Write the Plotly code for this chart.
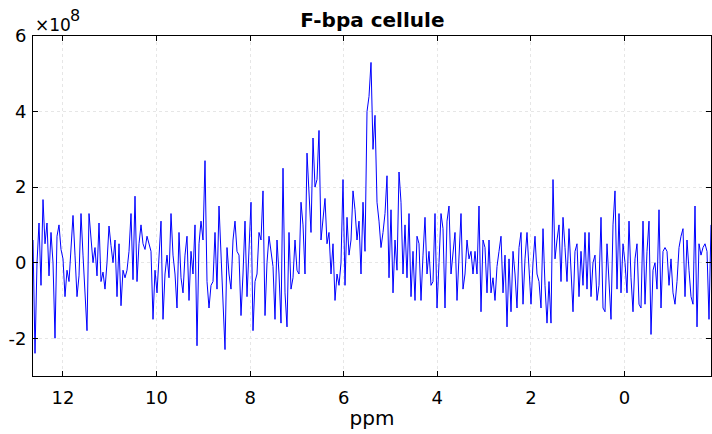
import numpy as np
import plotly.graph_objects as go

# chemical shift range of the sampled spectrum (ppm), left to right
ppm_first = 12.64
ppm_last = -1.85

# intensity values (x 1e8), left (high ppm) to right
seg_a = [0.6, -2.4, 0.0, 1.05, -0.6, 1.67, 0.5, 1.05, -0.35, 0.8,
         0.0, -2.0, 0.7, 1.0, 0.35, 0.1, -0.9, -0.2, -0.5, 0.3,
         1.25, 0.2, -0.9, -0.35, 1.3, 0.2, -0.9, -1.8, 1.3, 0.5,
         0.0, 0.4, -0.35, 1.05, -0.5, -0.25, -0.7, 0.0, 0.97, 0.45,
         0.0, 0.6, -0.9, 0.5, -1.14, -0.2, -0.4, -0.2, 0.3, 1.3,
         -0.45, 1.76, -0.5, 0.5, 1.0, 0.5, 0.35, 0.7]
seg_b = [0.5, 0.3, -1.5, -0.2, -0.8, 0.3, 1.1, -1.5, -0.3, 0.2,
         -0.4, 1.3, 0.2, -0.3, -1.2, 0.8, -0.4, -0.8, 0.2, 0.7,
         -1.0, 0.3, -0.3, 1.0, -2.2, 0.5, 1.1, 0.6, 2.7, -0.5,
         -1.2, -0.6, -0.5, 0.8, -0.7, 1.5, 0.3, -1.1, -2.3, 0.4,
         -0.3, -0.7, 0.6, 1.1, 0.3, 0.2, -1.4, -0.3, 1.1, -0.9,
         0.2, 1.6, -1.8, -0.5, -0.3, 0.8, 0.6, 1.9]
seg_c = [-1.4, 0.0, 0.7, 0.3, -0.1, -1.5, 0.6, -0.3, -1.6, 2.5,
         -0.8, -1.7, 0.8, -0.7, -0.4, 0.6, -0.2, -0.3, 1.6, 1.0,
         -0.3, 2.9, 2.0, 0.8, 3.3, 2.0, 2.2, 3.5, 0.6, 1.2,
         1.7, 0.5, 0.8, -0.3, 0.5, -1.0, -0.3, -0.6, 0.0, 2.2,
         -0.6, 1.2, 0.2, 0.6, 1.9, 1.4, 0.6, 1.1, -0.3, 1.6,
         0.3, 4.0, 4.4, 5.3, 3.0, 3.9, 1.6]
seg_d = [1.1, 0.4, 0.8, 1.3, 2.3, -0.4, 1.4, -0.8, 0.6, -0.2,
         2.4, 1.6, -0.3, 1.0, -0.4, 1.3, -0.9, 0.3, -1.0, 0.7,
         0.5, -1.0, 0.2, 1.2, -0.3, 0.3, -0.6, -0.5, 1.3, -1.2,
         0.0, 1.3, 0.9, -1.2, 1.1, 1.5, -0.3, 0.3, 0.8, -1.0,
         0.2, 1.3, -0.7, -0.3, 0.6, 0.1, 0.3, -0.3, 0.3, -0.3,
         1.5, -1.3, 0.6, 0.4, -0.8, 0.6, -0.8]
seg_e = [-0.4, -1.0, -0.1, 0.3, 0.7, -0.8, 0.2, -1.7, 0.1, -1.3,
         0.3, -0.3, -1.2, 0.4, 0.8, -1.1, 0.1, 0.8, -0.3, -1.1,
         0.0, 0.7, -0.3, -0.5, -1.2, 0.9, -0.6, -1.6, -0.5, -1.6,
         2.2, 0.1, 0.6, 1.0, -0.5, 1.2, 0.4, -0.5, 0.9, -0.3,
         -1.3, 0.3, 0.5, -0.9, 0.3, -0.6, 0.8, -0.7, 0.8, -0.9,
         0.0, 0.2, -1.0, -0.6, 1.2, -1.2, -1.3]
seg_f = [0.5, -0.5, -1.5, 1.0, 1.9, -0.7, 1.3, -0.8, 0.5, 0.0,
         -0.8, 1.1, -0.4, -1.3, 0.1, 0.5, -1.1, -1.2, 1.1, -1.1,
         0.3, 1.1, -1.9, -0.2, 0.0, -0.7, 1.4, -1.2, 0.3, 0.4,
         0.3, -0.6, 0.1, -0.8, -1.1, -0.5, 0.4, 0.7, 0.9, -0.9,
         0.6, -0.2, -0.9, -1.1, 1.5, -1.7, 0.5, 0.2, 0.4, 0.5,
         0.3, -1.5, 1.0]

intensity = seg_a + seg_b + seg_c + seg_d + seg_e + seg_f
ppm = np.linspace(ppm_first, ppm_last, len(intensity))

x_ticks = [12, 10, 8, 6, 4, 2, 0]
x_tick_labels = ["12", "10", "8", "6", "4", "2", "0"]
y_ticks = [-2, 0, 2, 4, 6]
y_tick_labels = ["-2", "0", "2", "4", "6"]

font_family = "DejaVu Sans, Liberation Sans, sans-serif"

fig = go.Figure()
fig.add_trace(go.Scatter(x=ppm, y=intensity, mode="lines",
                         line=dict(color="#0000ff", width=1),
                         showlegend=False, hoverinfo="skip"))

axis_common = dict(showline=True, linecolor="black", linewidth=1, mirror="ticks",
                   ticks="inside", ticklen=5, tickcolor="black",
                   showgrid=True, gridcolor="#e6e6e6", griddash="dot", gridwidth=1,
                   zeroline=False, automargin=False,
                   tickfont=dict(family=font_family, size=18, color="black"))

fig.update_layout(
    width=712, height=434,
    margin=dict(l=33, r=1, t=36, b=58),
    paper_bgcolor="white", plot_bgcolor="white",
    font=dict(family=font_family, color="black"),
    title=dict(text="<b>F-bpa cellule</b>", x=0.523, xanchor="center",
               yref="container", y=1 - 19.5 / 434, yanchor="middle",
               font=dict(family=font_family, size=20, color="black")),
    xaxis=dict(range=[ppm_first, ppm_last], tickvals=x_ticks, ticktext=x_tick_labels,
               ticklabelstandoff=5,
               title=dict(text="ppm", font=dict(family=font_family, size=20, color="black"),
                          standoff=4),
               **axis_common),
    yaxis=dict(range=[-3, 6], tickvals=y_ticks, ticktext=y_tick_labels,
               ticklabelstandoff=2, **axis_common),
)

fig.add_annotation(text="\u00d710", xref="paper", yref="paper",
                   x=0.0, y=1.0, xanchor="left", yanchor="bottom", showarrow=False,
                   font=dict(family=font_family, size=17, color="black"),
                   xshift=0, yshift=-1)
fig.add_annotation(text="8", xref="paper", yref="paper",
                   x=0.0, y=1.0, xanchor="left", yanchor="bottom", showarrow=False,
                   font=dict(family=font_family, size=16, color="black"),
                   xshift=35, yshift=9)

fig.write_html("out.html", config={"displayModeBar": False},
               post_script="document.body.style.margin='0';document.body.style.overflow='hidden';")
